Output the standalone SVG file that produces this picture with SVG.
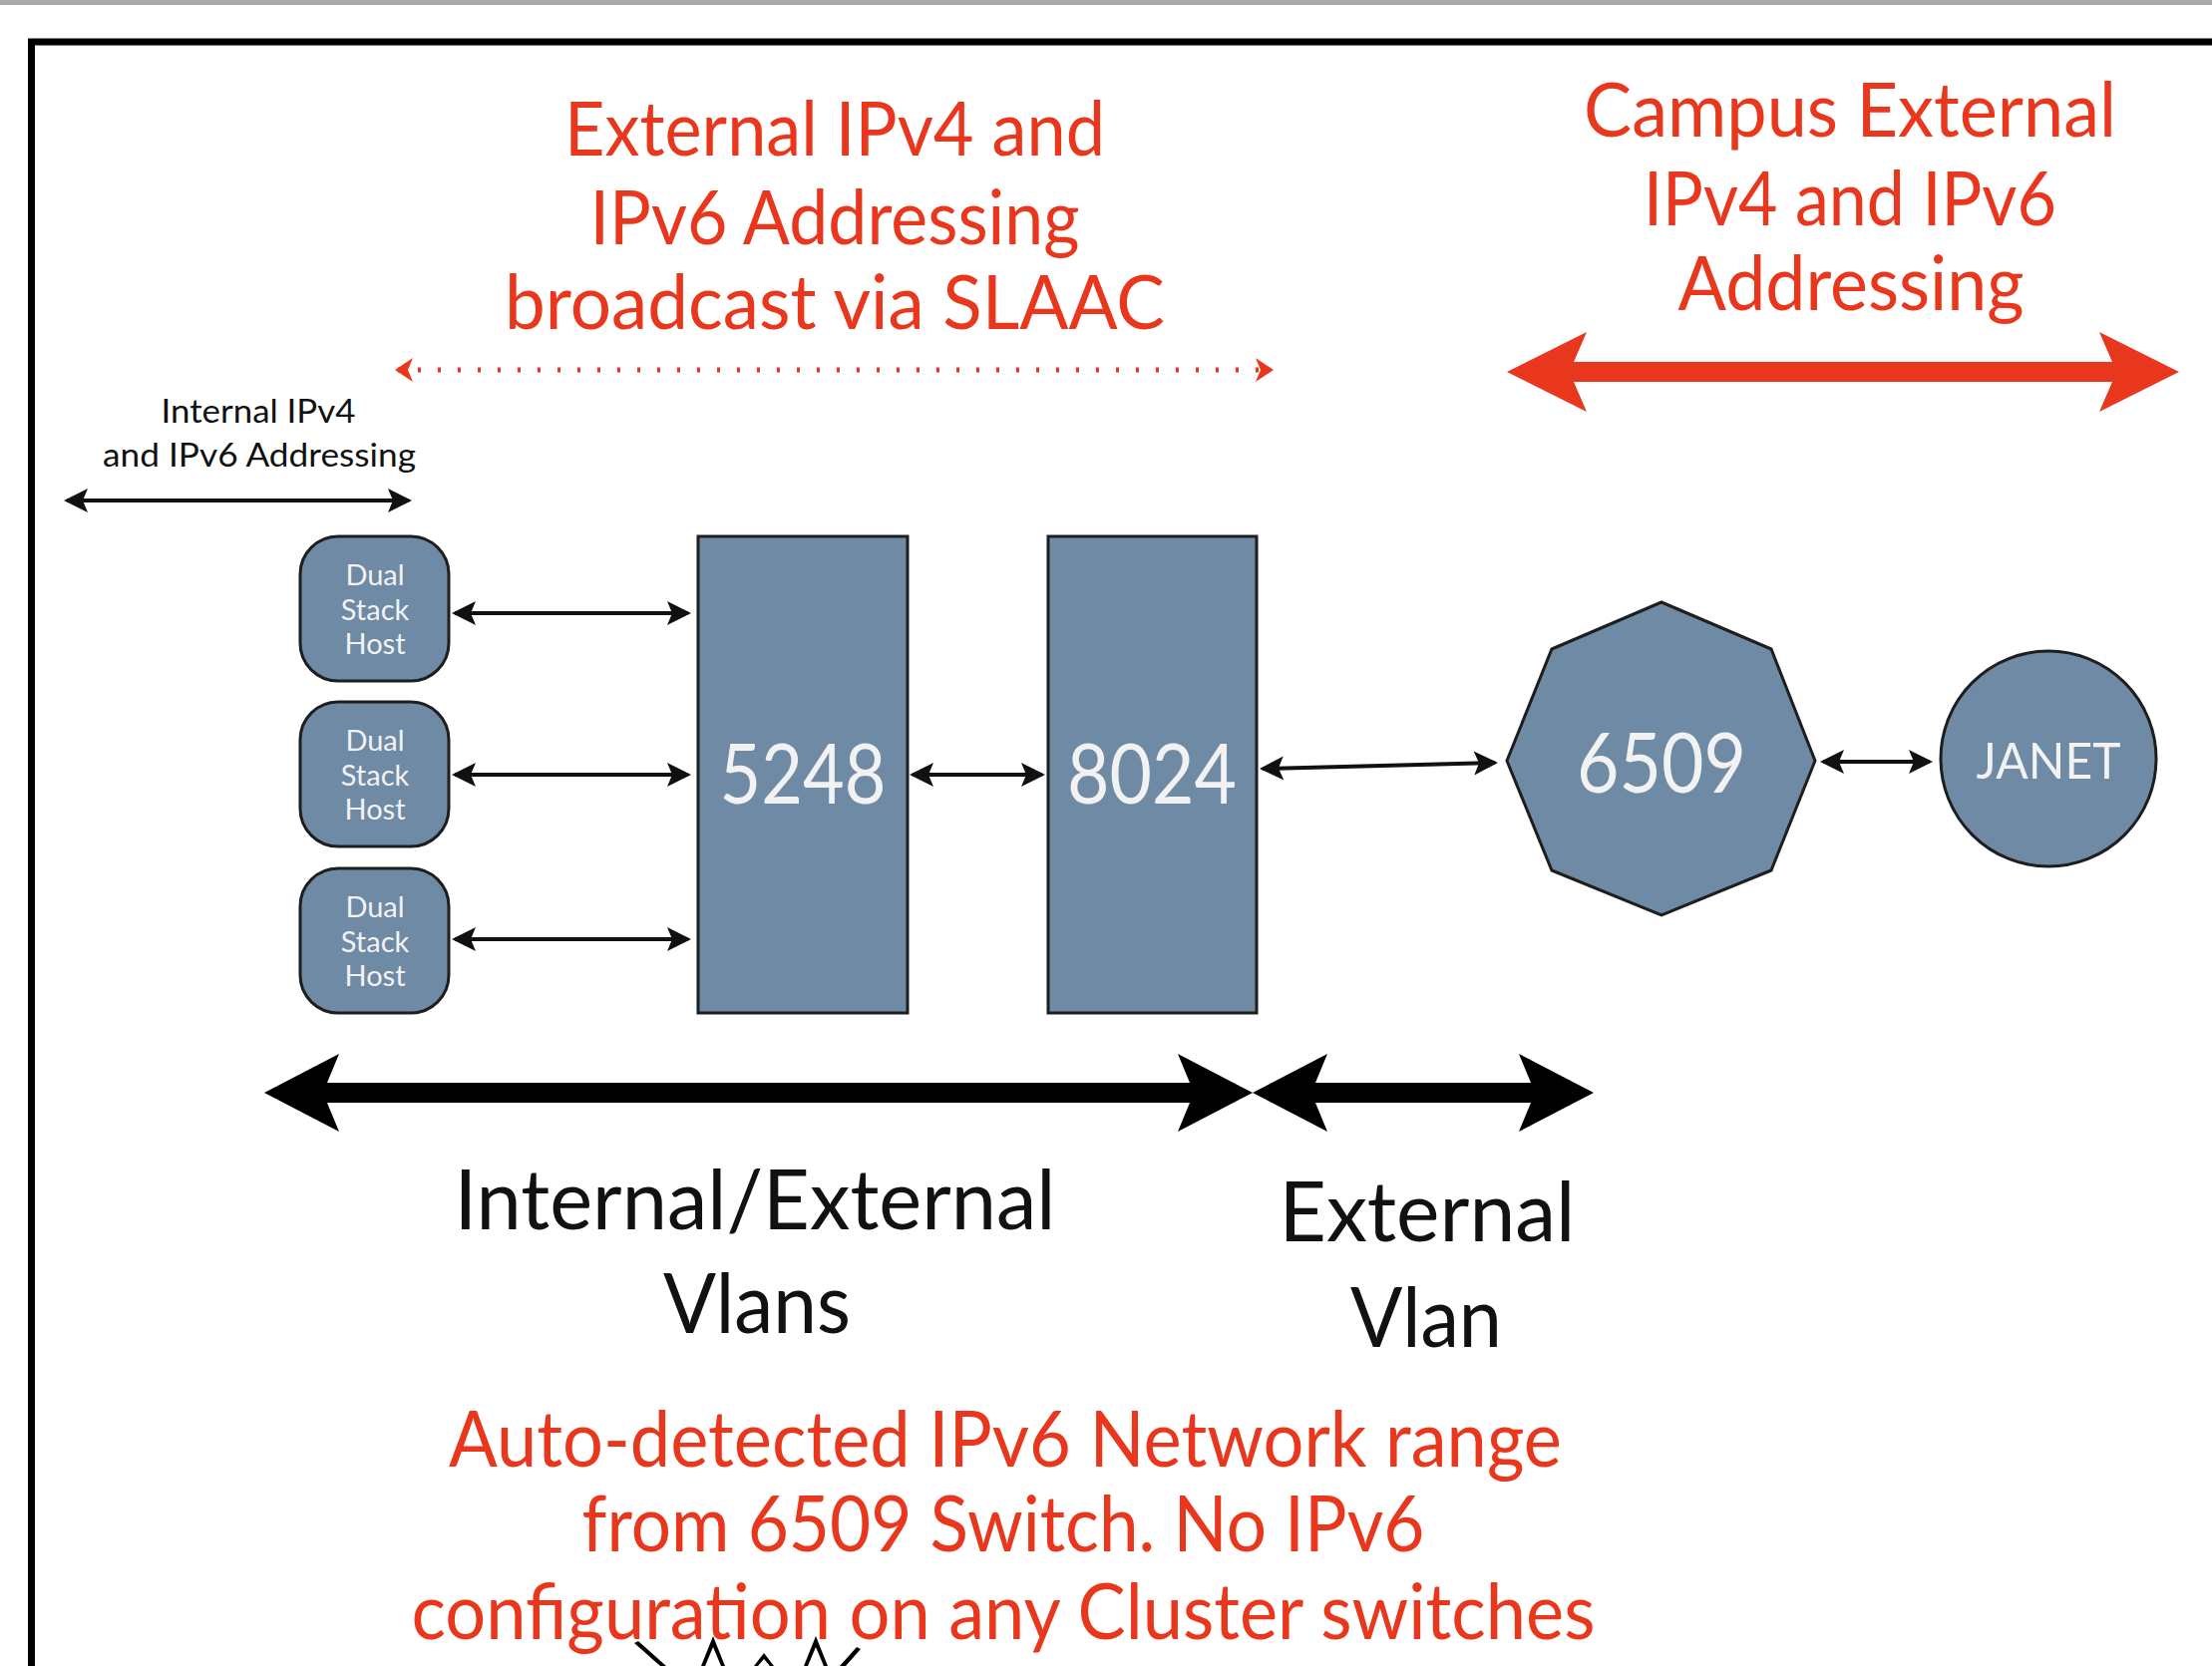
<svg xmlns="http://www.w3.org/2000/svg" width="2218" height="1671" viewBox="0 0 2218 1671">
<style>
  text { font-family: "Lato", "Open Sans", "Liberation Sans", sans-serif; }
  .red { fill: #e8371d; }
  .blk { fill: #111111; }
  .node { fill: #6f8aa5; stroke: #1e1e1e; stroke-width: 3; }
  .ntext { fill: #f2f2f2; text-anchor: middle; }
  .host { font-size: 29px; }
  .big { font-size: 84px; }
  .conn { stroke: #111; stroke-width: 4; fill: none; }
</style>
<defs>
  <marker id="ab" markerUnits="userSpaceOnUse" viewBox="-26 -14 30 28" markerWidth="30" markerHeight="28" refX="0" refY="0" orient="auto-start-reverse">
    <path d="M3,0 L-21,-12 L-16,0 L-21,12 Z" fill="#111"/>
  </marker>
  <marker id="ar" markerUnits="userSpaceOnUse" viewBox="-22 -14 26 28" markerWidth="26" markerHeight="28" refX="0" refY="0" orient="auto-start-reverse">
    <path d="M3,0 L-15,-12 L-10,0 L-15,12 Z" fill="#e8371d"/>
  </marker>
</defs>

<rect x="0" y="0" width="2218" height="5" fill="#a8a8a8"/>
<rect x="31.5" y="42" width="2300" height="1700" fill="none" stroke="#000" stroke-width="7"/>

<g id="title-left" class="red" text-anchor="middle" font-size="76">
  <text x="837" y="156" textLength="542" lengthAdjust="spacingAndGlyphs">External IPv4 and</text>
  <text x="837" y="245" textLength="491" lengthAdjust="spacingAndGlyphs">IPv6 Addressing</text>
  <text x="837" y="330" textLength="662" lengthAdjust="spacingAndGlyphs">broadcast via SLAAC</text>
</g>

<g id="title-right" class="red" text-anchor="middle" font-size="76">
  <text x="1855" y="137" textLength="534" lengthAdjust="spacingAndGlyphs">Campus External</text>
  <text x="1855" y="226" textLength="414" lengthAdjust="spacingAndGlyphs">IPv4 and IPv6</text>
  <text x="1856" y="311" textLength="347" lengthAdjust="spacingAndGlyphs">Addressing</text>
</g>

<g id="internal-label" class="blk" text-anchor="middle" font-size="32">
  <text x="259" y="424" textLength="195" lengthAdjust="spacingAndGlyphs">Internal IPv4</text>
  <text x="260" y="468" textLength="314" lengthAdjust="spacingAndGlyphs">and IPv6 Addressing</text>
</g>

<g id="host1">
  <rect class="node" x="301" y="538" width="149" height="145" rx="38"/>
  <text class="ntext host" x="376" y="587">Dual</text>
  <text class="ntext host" x="376" y="622">Stack</text>
  <text class="ntext host" x="376" y="656">Host</text>
</g>
<g id="host2">
  <rect class="node" x="301" y="704" width="149" height="145" rx="38"/>
  <text class="ntext host" x="376" y="753">Dual</text>
  <text class="ntext host" x="376" y="788">Stack</text>
  <text class="ntext host" x="376" y="822">Host</text>
</g>
<g id="host3">
  <rect class="node" x="301" y="871" width="149" height="145" rx="38"/>
  <text class="ntext host" x="376" y="920">Dual</text>
  <text class="ntext host" x="376" y="955">Stack</text>
  <text class="ntext host" x="376" y="989">Host</text>
</g>

<g id="sw5248">
  <rect class="node" x="700" y="538" width="210" height="478"/>
  <text class="ntext big" x="805" y="806" textLength="167" lengthAdjust="spacingAndGlyphs">5248</text>
</g>
<g id="sw8024">
  <rect class="node" x="1051" y="538" width="209" height="478"/>
  <text class="ntext big" x="1155" y="806" textLength="170" lengthAdjust="spacingAndGlyphs">8024</text>
</g>
<g id="sw6509">
  <polygon class="node" points="1666,604 1776,651 1820,763 1776,873 1666,918 1556,873 1511,763 1556,651"/>
  <text class="ntext big" x="1666" y="795" textLength="170" lengthAdjust="spacingAndGlyphs">6509</text>
</g>
<g id="janet">
  <circle class="node" cx="2054" cy="761" r="108"/>
  <text class="ntext" x="2054" y="781" font-size="50" textLength="145" lengthAdjust="spacingAndGlyphs">JANET</text>
</g>

<g id="connectors">
  <line class="conn" x1="67" y1="502" x2="410" y2="502" marker-start="url(#ab)" marker-end="url(#ab)"/>
  <line class="conn" x1="456" y1="615" x2="690" y2="615" marker-start="url(#ab)" marker-end="url(#ab)"/>
  <line class="conn" x1="456" y1="777" x2="690" y2="777" marker-start="url(#ab)" marker-end="url(#ab)"/>
  <line class="conn" x1="456" y1="942" x2="690" y2="942" marker-start="url(#ab)" marker-end="url(#ab)"/>
  <line class="conn" x1="915" y1="777" x2="1045" y2="777" marker-start="url(#ab)" marker-end="url(#ab)"/>
  <line class="conn" x1="1266" y1="771" x2="1499" y2="765" marker-start="url(#ab)" marker-end="url(#ab)"/>
  <line class="conn" x1="1828" y1="764" x2="1935" y2="764" marker-start="url(#ab)" marker-end="url(#ab)"/>
  <line x1="399" y1="371" x2="1274" y2="371" stroke="#e8371d" stroke-width="5" stroke-dasharray="3 17" marker-start="url(#ar)" marker-end="url(#ar)"/>
  <polygon fill="#e8371d" points="1511,373 1591,333 1578,363 2118,363 2105,333 2185,373 2105,413 2118,383 1578,383 1591,413"/>
  <polygon fill="#000" points="265,1096 340,1057 328,1086 1193,1086 1181,1057 1256,1096 1181,1135 1193,1106 328,1106 340,1135"/>
  <polygon fill="#000" points="1256,1096 1331,1057 1319,1086 1535,1086 1523,1057 1598,1096 1523,1135 1535,1106 1319,1106 1331,1135"/>
</g>

<g id="vlan-labels" class="blk" text-anchor="middle" font-size="84">
  <text x="757" y="1233" textLength="603" lengthAdjust="spacingAndGlyphs">Internal/External</text>
  <text x="759" y="1337" textLength="188" lengthAdjust="spacingAndGlyphs">Vlans</text>
  <text x="1431" y="1245" textLength="297" lengthAdjust="spacingAndGlyphs">External</text>
  <text x="1430" y="1351" textLength="152" lengthAdjust="spacingAndGlyphs">Vlan</text>
</g>

<g id="spikes" fill="#000">
  <polygon points="636,1648 640,1646 668,1671 662,1671"/>
  <polygon points="715,1641 703,1671 707,1671 715,1652 723,1671 727,1671"/>
  <polygon points="766,1658 756,1671 760,1671 766,1664 772,1671 776,1671"/>
  <polygon points="818,1641 806,1671 810,1671 818,1652 826,1671 830,1671"/>
  <polygon points="863,1654 859,1652 842,1671 848,1671"/>
</g>

<g id="bottom-note" class="red" text-anchor="middle" font-size="78">
  <text x="1008" y="1471" textLength="1116" lengthAdjust="spacingAndGlyphs">Auto-detected IPv6 Network range</text>
  <text x="1006" y="1556" textLength="845" lengthAdjust="spacingAndGlyphs">from 6509 Switch. No IPv6</text>
  <text x="1006" y="1644" textLength="1187" lengthAdjust="spacingAndGlyphs">configuration on any Cluster switches</text>
</g>
</svg>
